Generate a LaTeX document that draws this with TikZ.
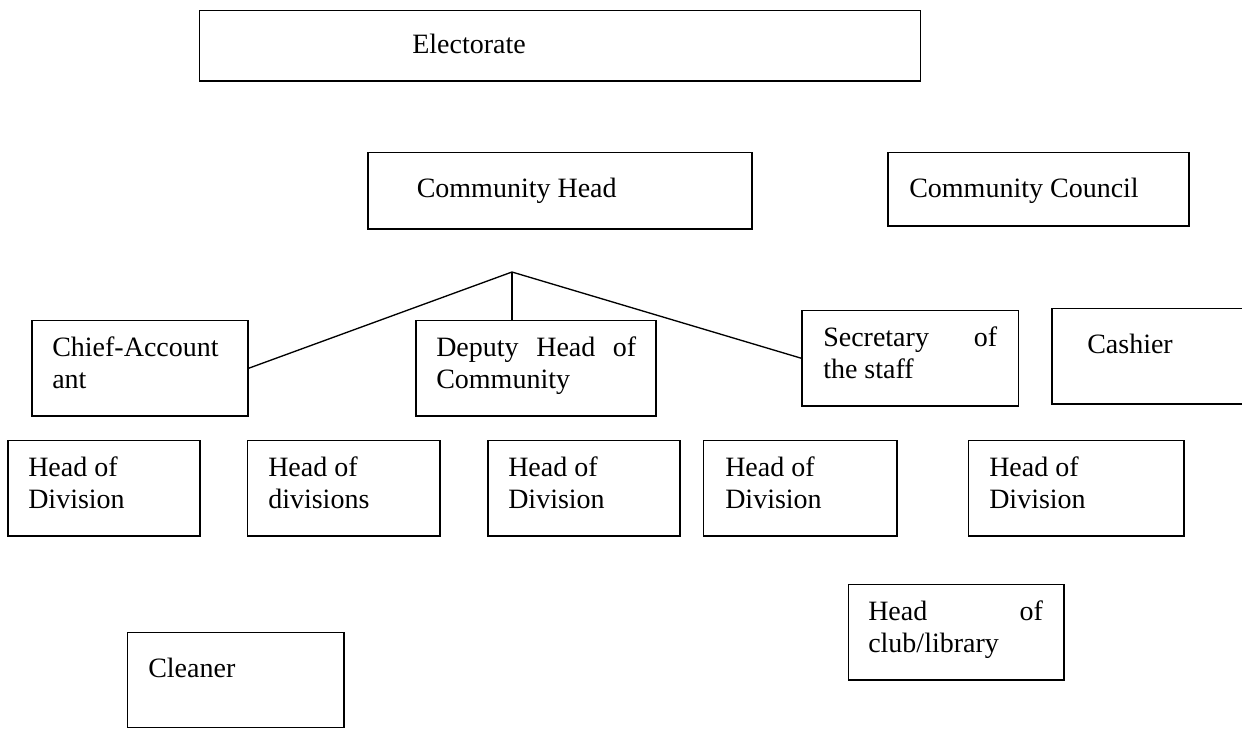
\documentclass[tikz,border=0pt]{standalone}
\usepackage{fontspec}
\setmainfont{Liberation Serif}
\usetikzlibrary{fit}

% one unit = one pixel of a 1242 x 729 canvas, y pointing down
\tikzset{
  x=0.75pt, y=-0.75pt,
  box/.style={draw, line width=1pt, inner sep=0pt, rectangle},
  link/.style={draw, line width=1pt},
  lbl/.style={anchor=base west, inner sep=0pt, align=left,
              font=\fontsize{21}{23.4}\selectfont},
}
\newcommand\orgbox[5]{\node[box, fit={(#2,#3) (#4,#5)}] (#1) {};}

\begin{document}
\begin{tikzpicture}
  \clip (0,0) rectangle (1242,729);
  \fill[white] (0,0) rectangle (1242,729);

  % boxes
  \orgbox{elect}{199.5}{10.5}{920.5}{81}
  \orgbox{chead}{368}{152.5}{752}{229}
  \orgbox{council}{888}{152.5}{1189}{226}
  \orgbox{chief}{32}{320.5}{248}{416}
  \orgbox{deputy}{416}{320.5}{656}{416}
  \orgbox{secr}{802}{310.5}{1018.5}{406}
  \orgbox{cashier}{1052}{308.5}{1262}{404}
  \orgbox{hdA}{8}{440.5}{200}{536}
  \orgbox{hdB}{247.5}{440.5}{440}{536}
  \orgbox{hdC}{488}{440.5}{680}{536}
  \orgbox{hdD}{703.5}{440.5}{897}{536}
  \orgbox{hdE}{968.5}{440.5}{1184}{536}
  \orgbox{club}{848.5}{584.5}{1064}{680}
  \orgbox{cleaner}{127.5}{632.5}{344}{727.5}

  % labels (two-line labels are placed by the baseline of their last line)
  \node[lbl] (tElect) at (412,53) {Electorate};
  \node[lbl] (tChead) at (416.5,197) {Community Head};
  \node[lbl] (tCouncil) at (909,197) {Community Council};
  \node[lbl] (tChief) at (52,388) {Chief-Account\\ant};
  \node[lbl] (tDeputy) at (436,388) {\makebox[150pt][l]{Deputy\hfill Head\hfill of}\\Community};
  \node[lbl] (tSecr) at (823,378) {\makebox[130.5pt][l]{Secretary\hfill of}\\the staff};
  \node[lbl] (tCashier) at (1087,353) {Cashier};
  \node[lbl] (tHdA) at (28,508) {Head of\\Division};
  \node[lbl] (tHdB) at (268,508) {Head of\\divisions};
  \node[lbl] (tHdC) at (508,508) {Head of\\Division};
  \node[lbl] (tHdD) at (725,508) {Head of\\Division};
  \node[lbl] (tHdE) at (989,508) {Head of\\Division};
  \node[lbl] (tClub) at (868,652) {\makebox[131pt][l]{Head\hfill of}\\club/library};
  \node[lbl] (tCleaner) at (148,677) {Cleaner};

  % branching lines
  \coordinate (j) at (512,272);
  \draw[link] (chief.east) -- (j) -- (secr.west);
  \draw[link] (j) -- (j |- deputy.north);
\end{tikzpicture}
\end{document}
